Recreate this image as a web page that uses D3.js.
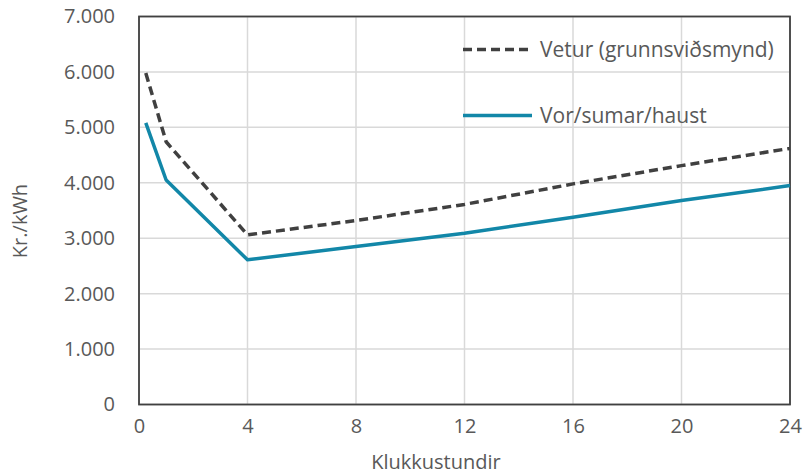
<!DOCTYPE html>
<html>
<head>
<meta charset="utf-8">
<script src="https://cdn.jsdelivr.net/npm/d3@7"></script>
<style>
  body { margin: 0; background: #fff; }
  text { font-family: "Open Sans", sans-serif; fill: #595959; }
</style>
</head>
<body>
<div id="chart"></div>
<script>
"use strict";

// hours of the day (x), price in Kr./kWh (y)
var hours = [0.25, 1, 4, 8, 12, 16, 20, 24];
var vetur = [5.98, 4.74, 3.06, 3.32, 3.61, 3.98, 4.31, 4.62];
var vor   = [5.08, 4.05, 2.61, 2.85, 3.09, 3.38, 3.68, 3.95];

var seriesNames = ["Vetur (grunnsviðsmynd)", "Vor/sumar/haust"];
var xTicks = [0, 4, 8, 12, 16, 20, 24];
var yTicks = [0, 1, 2, 3, 4, 5, 6, 7];
var xTitle = "Klukkustundir";
var yTitle = "Kr./kWh";

var width = 803, height = 474;
var margin = {top: 16.5, right: 13, bottom: 69.5, left: 139};
var w = width - margin.left - margin.right;
var h = height - margin.top - margin.bottom;

var svg = d3.select("#chart").append("svg")
    .attr("width", width)
    .attr("height", height);

var g = svg.append("g")
    .attr("transform", "translate(" + margin.left + "," + margin.top + ")");

var x = d3.scaleLinear().domain([0, 24]).range([0, w]);
var y = d3.scaleLinear().domain([0, 7]).range([h, 0]);

// grid
g.append("g").selectAll("line.hgrid")
    .data(yTicks)
    .enter().append("line")
    .attr("x1", 0).attr("x2", w)
    .attr("y1", function(d){ return y(d); })
    .attr("y2", function(d){ return y(d); })
    .style("stroke", "#d9d9d9")
    .style("stroke-width", 1.5);

g.append("g").selectAll("line.vgrid")
    .data(xTicks)
    .enter().append("line")
    .attr("y1", 0).attr("y2", h)
    .attr("x1", function(d){ return x(d); })
    .attr("x2", function(d){ return x(d); })
    .style("stroke", "#d9d9d9")
    .style("stroke-width", 1.5);

// axes (labels only, box drawn below)
var yAxis = d3.axisLeft(y)
    .tickValues(yTicks)
    .tickSize(0)
    .tickPadding(24)
    .tickFormat(function(d){ return d === 0 ? "0" : d3.format(".3f")(d); });

var xAxis = d3.axisBottom(x)
    .tickValues(xTicks)
    .tickSize(0)
    .tickPadding(14);

var ya = g.append("g").call(yAxis);
var xa = g.append("g").attr("transform", "translate(0," + h + ")").call(xAxis);
[ya, xa].forEach(function(a){
  a.select(".domain").remove();
  a.selectAll("text")
    .style("font-size", "20px")
    .style("font-family", "'Open Sans', sans-serif")
    .attr("fill", "#595959");
});
xa.selectAll("text").attr("dy", "0.71em");

// plot box
g.append("rect")
    .attr("x", 0).attr("y", 0)
    .attr("width", w).attr("height", h)
    .style("fill", "none")
    .style("stroke", "#404040")
    .style("stroke-width", 1.8);

// titles
svg.append("text")
    .attr("x", 436)
    .attr("y", 469)
    .attr("text-anchor", "middle")
    .style("font-size", "20px")
    .text(xTitle);

svg.append("text")
    .attr("transform", "translate(27,221) rotate(-90)")
    .attr("text-anchor", "middle")
    .style("font-size", "20px")
    .text(yTitle);

// lines
var line = d3.line()
    .x(function(d){ return x(d[0]); })
    .y(function(d){ return y(d[1]); });

var series = [
  {name: seriesNames[0], values: vetur, color: "#404040", dash: "9,5"},
  {name: seriesNames[1], values: vor,   color: "#1287a8", dash: null}
];

g.selectAll("path.series")
    .data(series)
    .enter().append("path")
    .attr("class", "series")
    .attr("d", function(d){ return line(d3.zip(hours, d.values)); })
    .style("fill", "none")
    .style("stroke", function(d){ return d.color; })
    .style("stroke-width", 3.5)
    .style("stroke-dasharray", function(d){ return d.dash; })
    .style("stroke-linejoin", "round");

// legend
var legend = svg.selectAll("g.legend")
    .data(series)
    .enter().append("g")
    .attr("class", "legend")
    .attr("transform", function(d, i){ return "translate(463," + (49.5 + i * 66) + ")"; });

legend.append("line")
    .attr("x1", 0).attr("x2", 69)
    .attr("y1", 0).attr("y2", 0)
    .style("stroke", function(d){ return d.color; })
    .style("stroke-width", 3.5)
    .style("stroke-dasharray", function(d){ return d.dash; });

legend.append("text")
    .attr("x", 77)
    .attr("y", 0)
    .attr("dy", "0.36em")
    .style("font-size", "21px")
    .text(function(d){ return d.name; });
</script>
</body>
</html>
